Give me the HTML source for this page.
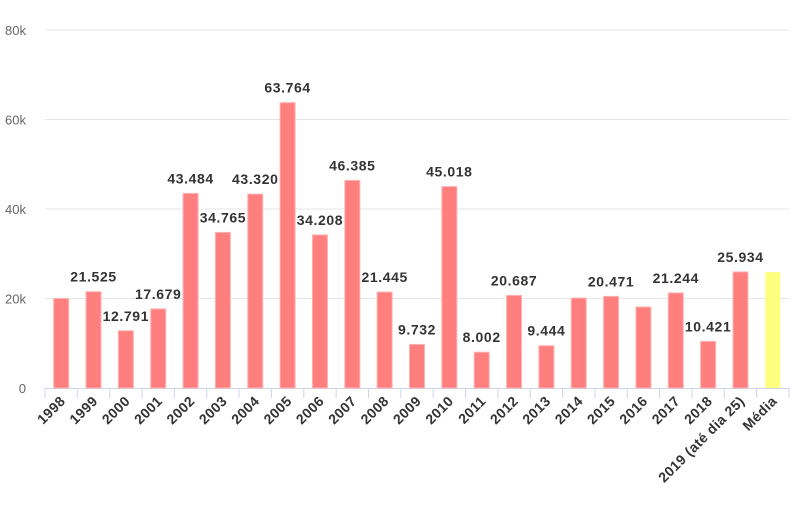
<!DOCTYPE html>
<html><head><meta charset="utf-8"><style>
body{margin:0;background:#fff;width:805px;height:500px;overflow:hidden;font-family:"Liberation Sans",sans-serif}
</style></head><body>
<svg id="c" width="805" height="500" xmlns="http://www.w3.org/2000/svg" font-family="Liberation Sans, sans-serif"></svg>
<script>
const data=[["1998",20000,null],["1999",21525,"21.525"],["2000",12791,"12.791"],["2001",17679,"17.679"],["2002",43484,"43.484"],["2003",34765,"34.765"],["2004",43320,"43.320"],["2005",63764,"63.764"],["2006",34208,"34.208"],["2007",46385,"46.385"],["2008",21445,"21.445"],["2009",9732,"9.732"],["2010",45018,"45.018"],["2011",8002,"8.002"],["2012",20687,"20.687"],["2013",9444,"9.444"],["2014",20100,null],["2015",20471,"20.471"],["2016",18100,null],["2017",21244,"21.244"],["2018",10421,"10.421"],["2019 (até dia 25)",25934,"25.934"],["Média",25900,null]];
const L=45,R=789,B=388,T=30,k=(B-T)/80000,bw=(R-L)/data.length;
let s='';
for(let i=0;i<=4;i++){const y=B-i*20000*k;
 if(i>0)s+=`<line x1="${L}" x2="${R}" y1="${y}" y2="${y}" stroke="#e6e6e6" stroke-width="1"/>`;
 s+=`<text x="26" y="${y+5}" text-anchor="end" font-size="13" fill="#666">${i?i*20+'k':'0'}</text>`;}
s+=`<line x1="${L}" x2="${R}" y1="${B+0.5}" y2="${B+0.5}" stroke="#ccd6eb"/>`;
for(let i=0;i<=data.length;i++){const x=L+i*bw;s+=`<line x1="${x}" x2="${x}" y1="${B}" y2="${B+10}" stroke="#ccd6eb"/>`;}
data.forEach((d,i)=>{const cx=L+bw*(i+0.5),h=d[1]*k,y=B-h;
 const col=i==data.length-1?'#ffff7f':'#ff7f7f';
 s+=`<rect x="${cx-7.5}" y="${y}" width="15" height="${h}" fill="${col}" stroke="#ffb3b3" stroke-width="${i==data.length-1?0:1}"/>`;
 if(d[2])s+=`<text x="${cx}" y="${y-10}" text-anchor="middle" font-size="14" letter-spacing="0.6" font-weight="bold" fill="#333">${d[2]}</text>`;
 s+=`<text transform="translate(${cx+5},${B+14}) rotate(-45)" text-anchor="end" font-size="14" letter-spacing="0.4" font-weight="bold" fill="#333">${d[0]}</text>`;
});
document.getElementById('c').innerHTML=s;
</script>
</body></html>
